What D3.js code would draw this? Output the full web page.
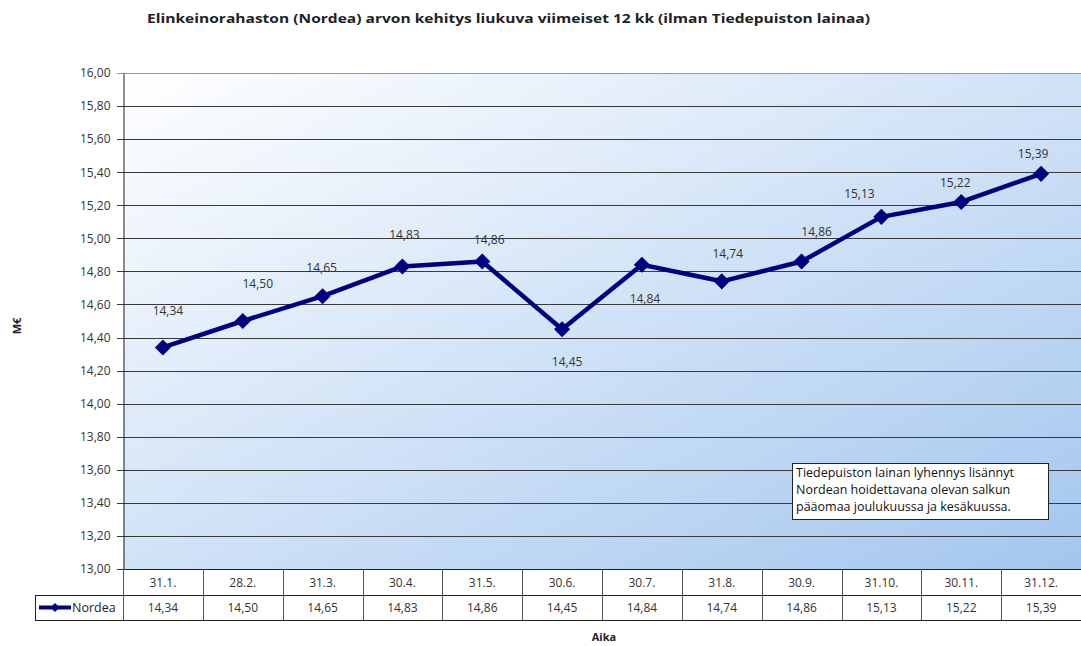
<!DOCTYPE html>
<html>
<head>
<meta charset="utf-8">
<script src="https://cdn.jsdelivr.net/npm/d3@7"></script>
<style>
  body { margin: 0; background: #fff; }
  svg text { font-family: "Open Sans", sans-serif; fill: #222; }
</style>
</head>
<body>
<svg id="chart" width="1081" height="646"></svg>
<script>
const categories = ['31.1.', '28.2.', '31.3.', '30.4.', '31.5.', '30.6.', '30.7.', '31.8.', '30.9.', '31.10.', '30.11.', '31.12.'];
const nordea = [14.34, 14.50, 14.65, 14.83, 14.86, 14.45, 14.84, 14.74, 14.86, 15.13, 15.22, 15.39];
const yTicks = [13.0, 13.2, 13.4, 13.6, 13.8, 14.0, 14.2, 14.4, 14.6, 14.8, 15.0, 15.2, 15.4, 15.6, 15.8, 16.0];
const seriesName = 'Nordea';
const title = 'Elinkeinorahaston (Nordea) arvon kehitys liukuva viimeiset 12 kk (ilman Tiedepuiston lainaa)';
const note = ['Tiedepuiston lainan lyhennys lisännyt', 'Nordean hoidettavana olevan salkun', 'pääomaa joulukuussa ja kesäkuussa.'];

// data label offsets (dragged by hand in the original)
const labelDx = [5, 15, -1, 2, 7, 5, 3, 6, 15, -22, -6, -8];
const labelDy = [-36, -37, -28, -31, -21, 33, 34, -27, -29, -23, -19, -20];

const fmt = v => v.toFixed(2).replace('.', ',');

const svg = d3.select('#chart');
const pLeft = 123, pRight = 1081, pTop = 73, pBottom = 569;
const rowH = 25;

const x = d3.scaleBand().domain(categories).range([pLeft, pRight]);
const y = d3.scaleLinear().domain([13, 16]).range([pBottom, pTop]);

// background gradient
const defs = svg.append('defs');
const grad = defs.append('linearGradient').attr('id', 'bg')
  .attr('x1', '0%').attr('y1', '0%').attr('x2', '100%').attr('y2', '100%');
grad.append('stop').attr('offset', '0%').attr('stop-color', '#ffffff');
grad.append('stop').attr('offset', '100%').attr('stop-color', '#a3c6ee');

svg.append('rect')
  .attr('x', pLeft).attr('y', pTop)
  .attr('width', pRight - pLeft).attr('height', pBottom - pTop)
  .attr('fill', 'url(#bg)');

// title
svg.append('text')
  .attr('x', 147).attr('y', 23)
  .attr('textLength', 723).attr('lengthAdjust', 'spacingAndGlyphs')
  .style('font-size', '13px').style('font-weight', 'bold')
  .text(title);

// gridlines
svg.append('g').selectAll('line')
  .data(yTicks)
  .join('line')
  .attr('x1', pLeft - 6).attr('x2', pRight)
  .attr('y1', d => Math.round(y(d)) + 0.5).attr('y2', d => Math.round(y(d)) + 0.5)
  .attr('stroke', d => d === 16 ? '#999' : '#3a3a3a')
  .attr('stroke-width', 1);

// y axis
const yAxis = svg.append('g')
  .attr('transform', `translate(${pLeft + 0.5},0)`)
  .call(d3.axisLeft(y).tickValues(yTicks).tickFormat(fmt).tickSize(0).tickPadding(13));
yAxis.select('.domain').attr('stroke', '#222');
yAxis.selectAll('text').style('font-size', '12px').style('fill', '#333');

svg.append('text')
  .attr('transform', 'translate(21,326) rotate(-90)')
  .attr('text-anchor', 'middle')
  .style('font-size', '11px').style('font-weight', 'bold')
  .text('M€');

// line + markers
const line = d3.line()
  .x((d, i) => x(categories[i]) + x.bandwidth() / 2)
  .y(d => y(d));

svg.append('path')
  .datum(nordea)
  .attr('d', line)
  .attr('fill', 'none')
  .attr('stroke', '#000080')
  .attr('stroke-width', 4.5)
  .attr('stroke-linejoin', 'round');

const diamond = d3.symbol().type(d3.symbolSquare).size(130);
svg.append('g').selectAll('path')
  .data(nordea)
  .join('path')
  .attr('transform', (d, i) => `translate(${x(categories[i]) + x.bandwidth() / 2},${y(d)}) rotate(45)`)
  .attr('d', diamond)
  .attr('fill', '#000080');

// data labels
svg.append('g').selectAll('text')
  .data(nordea)
  .join('text')
  .attr('x', (d, i) => x(categories[i]) + x.bandwidth() / 2 + labelDx[i])
  .attr('y', (d, i) => y(d) + labelDy[i] + 4)
  .attr('text-anchor', 'middle')
  .style('font-size', '12px').style('fill', '#333')
  .text(fmt);

// annotation box
const nb = svg.append('g').attr('transform', 'translate(792,463)');
nb.append('rect').attr('x', 0.5).attr('y', 0.5).attr('width', 256).attr('height', 56)
  .attr('fill', '#fff').attr('stroke', '#222');
nb.selectAll('text').data(note).join('text')
  .attr('x', 4).attr('y', (d, i) => 14 + i * 17)
  .style('font-size', '12.5px').style('fill', '#111')
  .text(d => d);

// data table
const tbl = svg.append('g');
const r1 = pBottom, r2 = pBottom + rowH + 1, r3 = r2 + rowH;
tbl.append('rect').attr('x', pLeft).attr('y', r1).attr('width', pRight - pLeft).attr('height', r3 - r1).attr('fill', '#fff');
tbl.append('rect').attr('x', 35).attr('y', r2).attr('width', pLeft - 35).attr('height', rowH).attr('fill', '#fff');

const hl = [[pLeft, r1], [35, r2], [35, r3]];
tbl.selectAll('line.h').data(hl).join('line').attr('class', 'h')
  .attr('x1', d => d[0]).attr('x2', pRight)
  .attr('y1', d => d[1] + 0.5).attr('y2', d => d[1] + 0.5)
  .attr('stroke', '#222');
tbl.selectAll('line.v').data(categories).join('line').attr('class', 'v')
  .attr('x1', d => Math.round(x(d)) + 0.5).attr('x2', d => Math.round(x(d)) + 0.5)
  .attr('y1', r1).attr('y2', r3)
  .attr('stroke', '#555');
tbl.append('line').attr('x1', 35.5).attr('x2', 35.5).attr('y1', r2).attr('y2', r3).attr('stroke', '#222');

tbl.selectAll('text.cat').data(categories).join('text').attr('class', 'cat')
  .attr('x', d => x(d) + x.bandwidth() / 2).attr('y', r1 + 18)
  .attr('text-anchor', 'middle').style('font-size', '12px').style('fill', '#333')
  .text(d => d);
tbl.selectAll('text.val').data(nordea).join('text').attr('class', 'val')
  .attr('x', (d, i) => x(categories[i]) + x.bandwidth() / 2).attr('y', r2 + 17)
  .attr('text-anchor', 'middle').style('font-size', '12px').style('fill', '#333')
  .text(fmt);

// legend key in the table
tbl.append('line').attr('x1', 39).attr('x2', 71).attr('y1', r2 + 12.5).attr('y2', r2 + 12.5)
  .attr('stroke', '#000080').attr('stroke-width', 4);
tbl.append('path').attr('transform', `translate(55,${r2 + 12.5}) rotate(45)`)
  .attr('d', d3.symbol().type(d3.symbolSquare).size(40)).attr('fill', '#000080');
tbl.append('text').attr('x', 72).attr('y', r2 + 17)
  .style('font-size', '12.5px').style('fill', '#222').text(seriesName);

// x axis title
svg.append('text')
  .attr('x', 604).attr('y', 641)
  .attr('text-anchor', 'middle')
  .style('font-size', '11px').style('font-weight', 'bold')
  .text('Aika');
</script>
</body>
</html>
